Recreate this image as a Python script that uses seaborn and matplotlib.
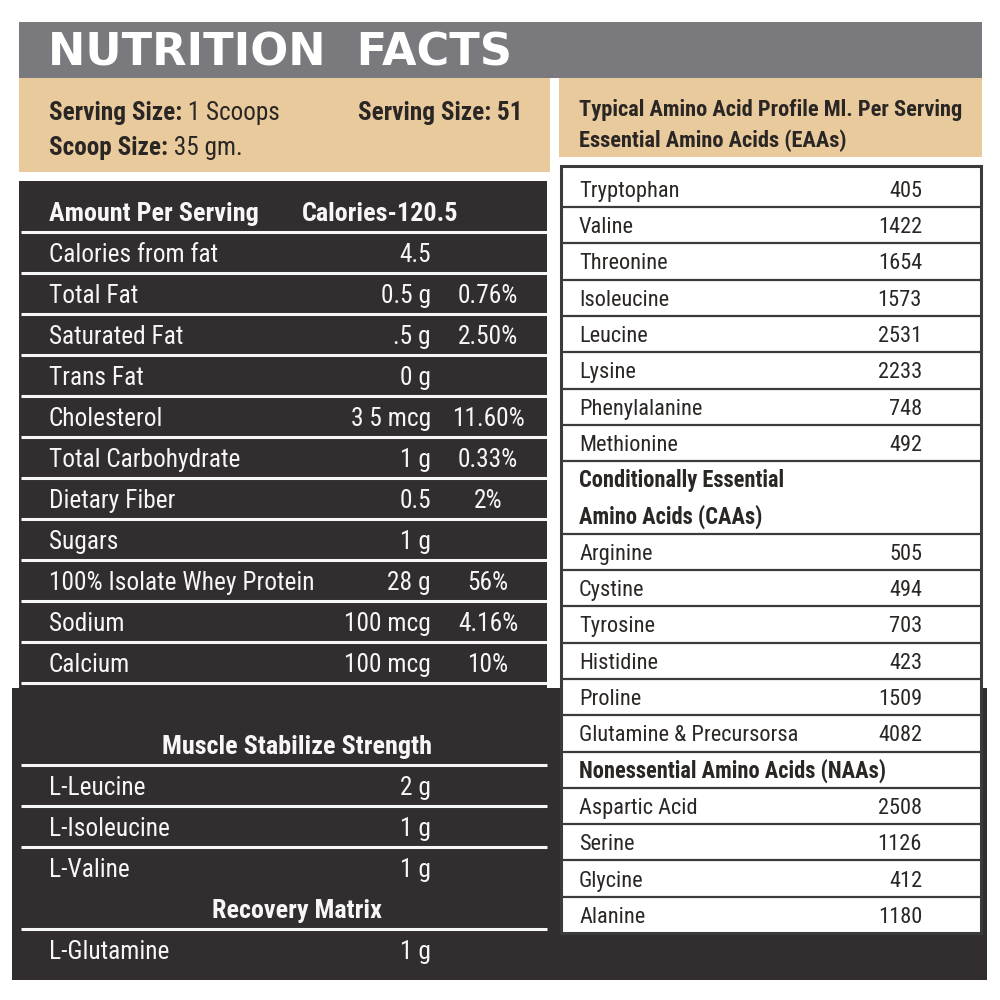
import matplotlib
matplotlib.use("Agg")
import matplotlib.pyplot as plt
from matplotlib.patches import Rectangle
from matplotlib import font_manager
from matplotlib.font_manager import FontProperties
from matplotlib.textpath import TextPath
import numpy as np
import pandas as pd
import seaborn as sns

# ---------------- data ----------------
title = "NUTRITION  FACTS"
serving_keys = ["Serving Size:", "Scoop Size:"]
serving_vals = [" 1 Scoops", " 35 gm."]
servings_per = "Serving Size: 51"
amino_title = ["Typical Amino Acid Profile Ml. Per Serving", "Essential Amino Acids (EAAs)"]

header_left = "Amount Per Serving"
header_cal = "Calories-120.5"
nutrients = ["Calories from fat", "Total Fat", "Saturated Fat", "Trans Fat", "Cholesterol",
             "Total Carbohydrate", "Dietary Fiber", "Sugars", "100% Isolate Whey Protein",
             "Sodium", "Calcium"]
amounts = ["4.5", "0.5 g", ".5 g", "0 g", "3 5 mcg", "1 g", "0.5", "1 g", "28 g", "100 mcg", "100 mcg"]
daily_values = ["", "0.76%", "2.50%", "", "11.60%", "0.33%", "2%", "", "56%", "4.16%", "10%"]

blend_groups = ["Muscle Stabilize Strength", "Recovery Matrix"]
blend_items = [["L-Leucine", "L-Isoleucine", "L-Valine"], ["L-Glutamine"]]
blend_amounts = [["2 g", "1 g", "1 g"], ["1 g"]]

eaa_names = ["Tryptophan", "Valine", "Threonine", "Isoleucine", "Leucine", "Lysine",
             "Phenylalanine", "Methionine"]
eaa_mg = [405, 1422, 1654, 1573, 2531, 2233, 748, 492]
caa_title = ["Conditionally Essential", "Amino Acids (CAAs)"]
caa_names = ["Arginine", "Cystine", "Tyrosine", "Histidine", "Proline", "Glutamine & Precursorsa"]
caa_mg = [505, 494, 703, 423, 1509, 4082]
naa_title = ["Nonessential Amino Acids (NAAs)"]
naa_names = ["Aspartic Acid", "Serine", "Glycine", "Alanine"]
naa_mg = [2508, 1126, 412, 1180]

# ---------------- style ----------------
sns.set_theme(style="white")
plt.rcParams["font.family"] = ["Roboto", "DejaVu Sans"]

GRAY = "#7a797d"
TAN = "#e9ca9c"
DARK = "#322d2e"
INK = "#2a2624"
LINE = "#3b3b3b"
WHITE = "#f7f7f7"


def _w(e):
    w = e.weight
    if isinstance(w, str):
        w = {"normal": 400, "regular": 400, "book": 400, "bold": 700}.get(w.lower(), 400)
    return w


def pick_fonts():
    ents = font_manager.fontManager.ttflist
    cond = ("condensed", "semi-condensed", "extra-condensed")
    rules = [
        (lambda e: e.name == "Liberation Sans Narrow"),
        (lambda e: e.name == "Roboto Condensed"),
        (lambda e: e.name.startswith("Noto Sans") and ("Condensed" in e.name or e.stretch in cond)
         and "Extra" not in e.name and "Semi" not in e.name and "Mono" not in e.name
         and "CJK" not in e.name),
        (lambda e: e.name.startswith("Open Sans") and ("Condensed" in e.name or e.stretch in cond)),
        (lambda e: e.name.startswith("DejaVu Sans") and ("Condensed" in e.name or e.stretch in cond)
         and "Mono" not in e.name),
        (lambda e: e.name == "Roboto" and e.stretch == "normal"),
    ]
    for rule in rules:
        m = [e for e in ents if rule(e) and e.style == "normal"]
        reg = [e for e in m if _w(e) == 400]
        bold = [e for e in m if _w(e) == 700]
        if reg and bold:
            return FontProperties(fname=reg[0].fname), FontProperties(fname=bold[0].fname)
    return FontProperties(family="DejaVu Sans"), FontProperties(family="DejaVu Sans", weight="bold")


REG, BOLD = pick_fonts()
TITLE_FP = FontProperties(family="DejaVu Sans", weight="bold")

fig = plt.figure(figsize=(10, 10), dpi=100, facecolor="white")
ax = fig.add_axes([0, 0, 1, 1])
ax.set_xlim(0, 1000)
ax.set_ylim(1000, 0)
ax.axis("off")
renderer = fig.canvas.get_renderer()


def measure(fp, s):
    t = ax.text(0, 500, s, fontproperties=fp)
    w = t.get_window_extent(renderer).width
    t.remove()
    return w


def cap_px_per_pt(fp):
    return TextPath((0, 0), "H", size=100, prop=fp).get_extents().height / 100 * 100 / 72


def fit(fp, samples, cap_target):
    base = fp.copy()
    base.set_size(10)
    sw = np.mean([10 * tw / measure(base, s) for s, tw in samples])
    sh = cap_target / cap_px_per_pt(fp)
    size = min(sw, sh)
    out = fp.copy()
    out.set_size(size)
    return out, cap_px_per_pt(fp) * size


L_REG, L_CAP = fit(REG, [("Total Carbohydrate", 187), ("100% Isolate Whey Protein", 270),
                         ("Calories from fat", 168)], 22)
L_BOLD, _ = fit(BOLD, [("Amount Per Serving", 210), ("Muscle Stabilize Strength", 266),
                       ("Recovery Matrix", 172)], 22)
R_REG, R_CAP = fit(REG, [("Glutamine & Precursorsa", 219), ("Phenylalanine", 122),
                         ("Aspartic Acid", 118)], 19)
R_BOLD, _ = fit(BOLD, [("Nonessential Amino Acids (NAAs)", 307),
                       ("Conditionally Essential", 208)], 19)
A_BOLD, _ = fit(BOLD, [("Typical Amino Acid Profile Ml. Per Serving", 384),
                       ("Essential Amino Acids (EAAs)", 269)], 19)
T_BOLD, T_CAP = fit(BOLD, [("Serving Size: 51", 166), ("Serving Size:", 135),
                           ("Scoop Size:", 117)], 22)
T_REG = REG.copy()
T_REG.set_size(T_BOLD.get_size())
TITLE, _ = fit(TITLE_FP, [(title, 474)], 32.5)


def box(x0, y0, x1, y1, **kw):
    ax.add_patch(Rectangle((x0, y0), x1 - x0, y1 - y0, **kw))


# ---------------- panels ----------------
box(19, 22, 982, 78, color=GRAY, lw=0)
box(19, 78, 550, 172, color=TAN, lw=0)
box(559, 78, 982, 157, color=TAN, lw=0)
box(19, 181, 547, 689, color=DARK, lw=0)
box(12, 688, 987, 980, color=DARK, lw=0)
box(561, 166, 981, 933, facecolor="white", edgecolor=LINE, lw=2.2, zorder=2)

# ---------------- title ----------------
ax.text(48, 66, title, fontproperties=TITLE, color="white", va="baseline", ha="left")

# ---------------- serving info (tan left) ----------------
for i, (k, v) in enumerate(zip(serving_keys, serving_vals)):
    t = ax.text(49, 120 + 35 * i, k, fontproperties=T_BOLD, color=INK, va="baseline", ha="left")
    ax.annotate(v, xy=(1, 0), xycoords=t, fontproperties=T_REG, color=INK,
                va="bottom", ha="left")
ax.text(358, 120, servings_per, fontproperties=T_BOLD, color=INK, va="baseline", ha="left")

# ---------------- amino title (tan right) ----------------
for i, line in enumerate(amino_title):
    ax.text(579, 116 + 31 * i, line, fontproperties=A_BOLD, color=INK, va="baseline", ha="left")

# ---------------- left nutrition table ----------------
L_X0, L_X1 = 21, 547
L_LABEL, L_VAL, L_PCT = 49, 431, 488
up_top, up_step = 211.5, 41.0
base_off = L_CAP / 2

ax.text(L_LABEL, up_top + base_off, header_left, fontproperties=L_BOLD, color=WHITE, va="baseline")
ax.text(302, up_top + base_off, header_cal, fontproperties=L_BOLD, color=WHITE, va="baseline")

left_df = pd.DataFrame({"name": nutrients, "amount": amounts, "dv": daily_values})
left_df["y"] = up_top + up_step * (left_df.index + 1)
ax.hlines(list(left_df["y"] - up_step / 2) + [left_df["y"].iloc[-1] + up_step / 2],
          L_X0, L_X1, color=WHITE, lw=2.2)
for _, r in left_df.iterrows():
    yb = r["y"] + base_off
    ax.text(L_LABEL, yb, r["name"], fontproperties=L_REG, color=WHITE, va="baseline")
    ax.text(L_VAL, yb, r["amount"], fontproperties=L_REG, color=WHITE, va="baseline", ha="right")
    if r["dv"]:
        ax.text(L_PCT, yb, r["dv"], fontproperties=L_REG, color=WHITE, va="baseline", ha="center")

# ---------------- blends (lower left) ----------------
rows = []
for g, items, amts in zip(blend_groups, blend_items, blend_amounts):
    rows.append((g, "", True))
    rows += [(n, a, False) for n, a in zip(items, amts)]
low_top = 744.5
for i, (n, a, hdr) in enumerate(rows):
    y = low_top + up_step * i
    if hdr:
        ax.text(297, y + base_off, n, fontproperties=L_BOLD, color=WHITE,
                va="baseline", ha="center")
    else:
        ax.hlines(y - up_step / 2, L_X0, L_X1, color=WHITE, lw=2.2)
        ax.text(L_LABEL, y + base_off, n, fontproperties=L_REG, color=WHITE, va="baseline")
        ax.text(L_VAL, y + base_off, a, fontproperties=L_REG, color=WHITE, va="baseline",
                ha="right")

# ---------------- amino acid table (right) ----------------
amino_rows = [(n, str(v), False) for n, v in zip(eaa_names, eaa_mg)]
amino_rows += [(t, "", True) for t in caa_title]
amino_rows += [(n, str(v), False) for n, v in zip(caa_names, caa_mg)]
amino_rows += [(t, "", True) for t in naa_title]
amino_rows += [(n, str(v), False) for n, v in zip(naa_names, naa_mg)]
R_step = 36.3
R_first = 207.0
r_off = R_CAP / 2
for k, (n, v, hdr) in enumerate(amino_rows):
    yc = R_first + (k - 0.5) * R_step
    ax.text(579, yc + r_off, n, fontproperties=R_BOLD if hdr else R_REG,
            color=INK, va="baseline", zorder=3)
    if v:
        ax.text(922, yc + r_off, v, fontproperties=R_REG, color=INK, va="baseline", ha="right",
                zorder=3)
    inside_caa_header = (n == caa_title[0])
    if not inside_caa_header and k < len(amino_rows) - 1:
        ax.hlines(R_first + k * R_step, 561, 981, color=LINE, lw=1.6, zorder=2.5)

fig.savefig("out.png", dpi=100, facecolor="white")
